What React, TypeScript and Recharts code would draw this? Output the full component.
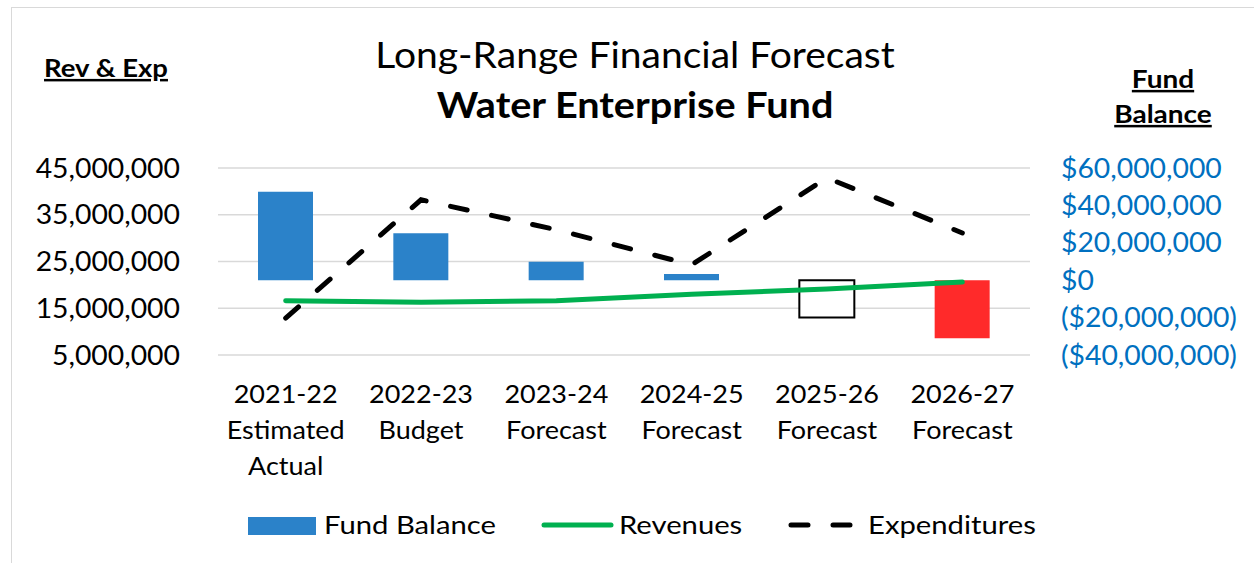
import React from 'react';
import { ComposedChart, Bar, Line, Cell, XAxis, YAxis, CartesianGrid } from 'recharts';

const categories = ['2021-22', '2022-23', '2023-24', '2024-25', '2025-26', '2026-27'];
const categorySubLabels = [['Estimated', 'Actual'], ['Budget'], ['Forecast'], ['Forecast'], ['Forecast'], ['Forecast']];
const fundBalance = [47300000, 25100000, 9900000, 3300000, -20000000, -31100000];
const revenues = [16600000, 16300000, 16600000, 18000000, 19100000, 20600000];
const expenditures = [12900000, 38200000, 31800000, 24300000, 42900000, 31100000];
const leftTicks = [5000000, 15000000, 25000000, 35000000, 45000000];
const rightTicks = [-40000000, -20000000, 0, 20000000, 40000000, 60000000];

const barFills = ['#2B82C9', '#2B82C9', '#2B82C9', '#2B82C9', '#FFFFFF', '#FF2A2A'];
const barStrokes = ['none', 'none', 'none', 'none', '#000000', 'none'];

const FONT = 'Lato, "Open Sans", sans-serif';
const W = 1254;
const H = 563;

const data = categories.map((c, i) => ({
  name: c,
  fund: fundBalance[i],
  revenues: revenues[i],
  expenditures: expenditures[i],
}));

const fmtLeft = (v: number) => v.toLocaleString('en-US');
const fmtRight = (v: number) => (v < 0 ? `($${Math.abs(v).toLocaleString('en-US')})` : `$${v.toLocaleString('en-US')}`);

// text stretched horizontally a little, the original font runs wider than Lato
function SText({ x, y, sx = 1, anchor = 'start', size, bold, fill = '#000', underline, dy, children }: any) {
  return (
    <text
      transform={`translate(${x} ${y}) scale(${sx} 1)`}
      textAnchor={anchor}
      fontSize={size}
      fontWeight={bold ? 'bold' : 'normal'}
      fontFamily={FONT}
      fill={fill}
      textDecoration={underline ? 'underline' : undefined}
      dy={dy}
    >
      {children}
    </text>
  );
}

function CategoryTick({ x, y, payload }: any) {
  const lines = [payload.value, ...(categorySubLabels[payload.index] ?? [])];
  return (
    <g>
      {lines.map((l, i) => (
        <SText key={i} x={x} y={y + 46 + i * 36} sx={1.08} anchor="middle" size={25}>
          {l}
        </SText>
      ))}
    </g>
  );
}

function LeftTick({ x, y, payload }: any) {
  return (
    <SText x={x} y={y} sx={1.05} anchor="end" size={27} dy="0.355em">
      {fmtLeft(payload.value)}
    </SText>
  );
}

function RightTick({ x, y, payload }: any) {
  return (
    <SText x={x} y={y} sx={1.05} anchor="start" size={27} fill="#0070C0" dy="0.355em">
      {fmtRight(payload.value)}
    </SText>
  );
}

export default function App() {
  return (
    <div style={{ position: 'absolute', left: 0, top: 0, width: W, height: H, overflow: 'hidden', background: '#fff' }}>
      {/* outer frame */}
      <div style={{ position: 'absolute', left: 11, top: 7, width: W + 50, height: H + 50, border: '1.5px solid #d9d9d9' }} />

      <div style={{ position: 'absolute', left: 0, top: 0 }}>
        <ComposedChart width={W} height={H} data={data} margin={{ top: 168, right: 0, bottom: 78, left: 0 }}>
          <CartesianGrid yAxisId="left" vertical={false} stroke="#d9d9d9" strokeWidth={1.5} />
          <XAxis
            dataKey="name"
            axisLine={false}
            tickLine={false}
            tickSize={0}
            height={130}
            interval={0}
            tick={<CategoryTick />}
          />
          <YAxis
            yAxisId="left"
            orientation="left"
            width={218}
            domain={[5000000, 45000000]}
            ticks={leftTicks}
            axisLine={false}
            tickLine={false}
            tickSize={0}
            tickMargin={38}
            tick={<LeftTick />}
          />
          <YAxis
            yAxisId="right"
            orientation="right"
            width={224}
            domain={[-40000000, 60000000]}
            ticks={rightTicks}
            axisLine={false}
            tickLine={false}
            tickSize={0}
            tickMargin={31}
            tick={<RightTick />}
          />
          <Bar yAxisId="right" dataKey="fund" barSize={55} isAnimationActive={false}>
            {data.map((d, i) => (
              <Cell key={d.name} fill={barFills[i]} stroke={barStrokes[i]} strokeWidth={2} />
            ))}
          </Bar>
          <Line
            yAxisId="left"
            type="linear"
            dataKey="revenues"
            stroke="#00B050"
            strokeWidth={5}
            strokeLinecap="round"
            dot={false}
            activeDot={false}
            isAnimationActive={false}
          />
          <Line
            yAxisId="left"
            type="linear"
            dataKey="expenditures"
            stroke="#000"
            strokeWidth={5}
            strokeDasharray="17 25"
            strokeLinecap="round"
            dot={false}
            activeDot={false}
            isAnimationActive={false}
          />
        </ComposedChart>
      </div>

      {/* titles, axis captions, legend */}
      <svg width={W} height={H} style={{ position: 'absolute', left: 0, top: 0, pointerEvents: 'none' }}>
        <SText x={635} y={68} sx={1.084} anchor="middle" size={36}>Long-Range Financial Forecast</SText>
        <SText x={635} y={118} sx={1.1} anchor="middle" size={36} bold>Water Enterprise Fund</SText>
        <SText x={106} y={77} sx={1.1} anchor="middle" size={25} bold underline>Rev &amp; Exp</SText>
        <SText x={1163} y={88} sx={1.12} anchor="middle" size={25} bold underline>Fund</SText>
        <SText x={1163} y={123} sx={1.12} anchor="middle" size={25} bold underline>Balance</SText>

        {/* legend */}
        <rect x={248} y={517} width={68} height={18} fill="#2B82C9" />
        <SText x={324} y={534} sx={1.17} size={25}>Fund Balance</SText>
        <line x1={544} y1={525} x2={611} y2={525} stroke="#00B050" strokeWidth={5} strokeLinecap="round" />
        <SText x={619} y={534} sx={1.17} size={25}>Revenues</SText>
        <line x1={791} y1={525} x2={852} y2={525} stroke="#000" strokeWidth={5} strokeDasharray="17 25" strokeLinecap="round" />
        <SText x={868} y={534} sx={1.17} size={25}>Expenditures</SText>
      </svg>
    </div>
  );
}
